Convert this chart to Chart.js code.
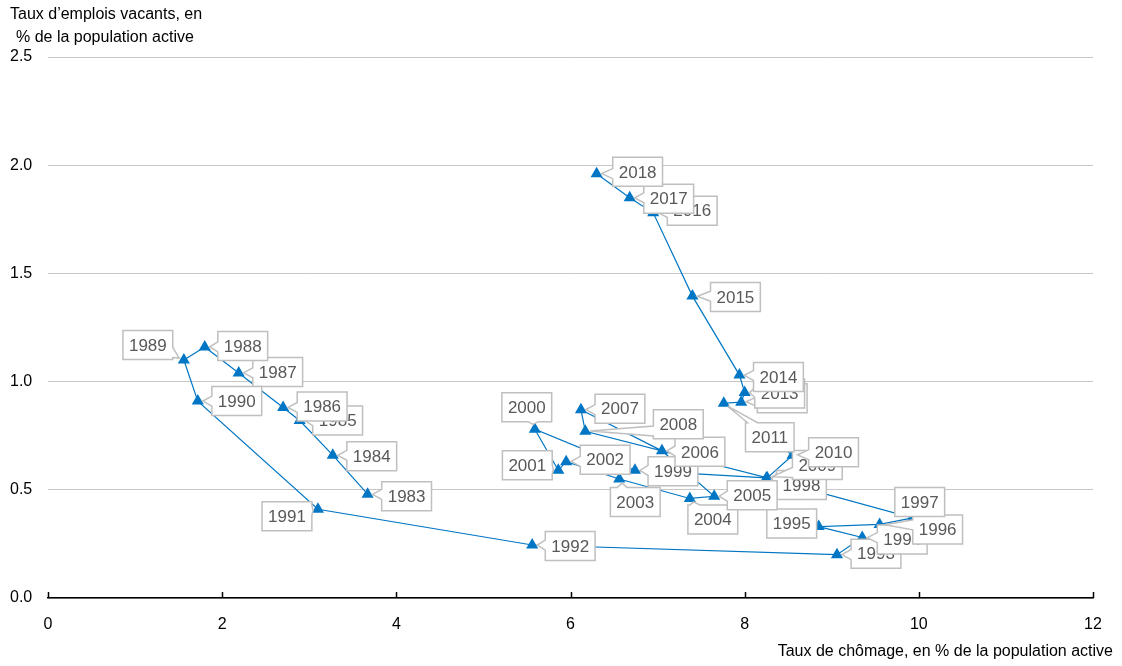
<!DOCTYPE html>
<html>
<head>
<meta charset="utf-8">
<script src="https://cdn.jsdelivr.net/npm/chart.js@4.4.1/dist/chart.umd.min.js"></script>
<style>
  html, body { margin: 0; padding: 0; background: #fff; }
  #wrap { width: 1122px; height: 666px; }
</style>
</head>
<body>
<div id="wrap"><canvas id="graphique" width="1122" height="666"></canvas></div>
<script>
// Données
const annees = [1983, 1984, 1985, 1986, 1987, 1988, 1989, 1990, 1991, 1992,
  1993, 1994, 1995, 1996, 1997, 1998, 1999, 2000, 2001, 2002,
  2003, 2004, 2005, 2006, 2007, 2008, 2009, 2010, 2011, 2012,
  2013, 2014, 2015, 2016, 2017, 2018];
const chomage = [3.67, 3.27, 2.89, 2.70, 2.19, 1.80, 1.56, 1.72, 3.10, 5.56,
  9.06, 9.35, 8.85, 9.55, 9.93, 8.25, 6.74, 5.59, 5.86, 5.95,
  6.56, 7.37, 7.65, 7.05, 6.12, 6.17, 8.26, 8.55, 7.76, 7.96,
  8.00, 7.94, 7.40, 6.95, 6.68, 6.30];
const emploisVacants = [0.48, 0.66, 0.82, 0.88, 1.04, 1.16, 1.10, 0.91, 0.41, 0.245,
  0.20, 0.28, 0.33, 0.34, 0.37, 0.555, 0.59, 0.78, 0.59, 0.63,
  0.55, 0.46, 0.47, 0.68, 0.87, 0.77, 0.555, 0.66, 0.90, 0.905,
  0.95, 1.03, 1.395, 1.78, 1.85, 1.96];
const ticksX = [0, 2, 4, 6, 8, 10, 12];
const titreX = "Taux de chômage, en % de la population active";
const titreY = ["Taux d’emplois vacants, en", "% de la population active"];

// Décalage des étiquettes (px) par rapport au point
const decalages = [
  [39, 2], [39, 1], [38, 0], [39, -1], [39, -1], [38, -1], [-36, -15], [39, 0], [-31, 7], [38, 1],
  [39, -1], [40, 2], [-27, -3], [58, 5], [7, -16], [35, 7], [38, 1], [-8, -22], [-31, -5], [39, -2],
  [16, 23], [23, 21], [38, -1], [38, 1], [39, -1], [93, -7], [50, -13], [41, -3], [46, 34], [41, -4],
  [35, 1], [39, 2], [43, 1], [39, -2], [39, 1], [41, -2]
];

const BLEU = "rgb(0,118,196)";
const POLICE = '"Liberation Sans Narrow", "Arial Narrow", "Liberation Sans", Arial, sans-serif';

function traceBulle(ctx, l, t, r, b, tx, ty) {
  const cx = (l + r) / 2, cy = (t + b) / 2, hw = (r - l) / 2, hh = (b - t) / 2;
  let cote = null;
  if (!(tx > l && tx < r && ty > t && ty < b)) {
    const rx = (tx - cx) / hw, ry = (ty - cy) / hh;
    if (Math.abs(rx) >= Math.abs(ry)) cote = rx < 0 ? "gauche" : "droite";
    else cote = ry < 0 ? "haut" : "bas";
  }
  const bw = 5;
  const ax = Math.min(Math.max(tx, l + bw + 2), r - bw - 2);
  const ay = Math.min(Math.max(ty, t + bw + 2), b - bw - 2);
  ctx.beginPath();
  ctx.moveTo(l, t);
  if (cote === "haut") { ctx.lineTo(ax - bw, t); ctx.lineTo(tx, ty); ctx.lineTo(ax + bw, t); }
  ctx.lineTo(r, t);
  if (cote === "droite") { ctx.lineTo(r, ay - bw); ctx.lineTo(tx, ty); ctx.lineTo(r, ay + bw); }
  ctx.lineTo(r, b);
  if (cote === "bas") { ctx.lineTo(ax + bw, b); ctx.lineTo(tx, ty); ctx.lineTo(ax - bw, b); }
  ctx.lineTo(l, b);
  if (cote === "gauche") { ctx.lineTo(l, ay + bw); ctx.lineTo(tx, ty); ctx.lineTo(l, ay - bw); }
  ctx.closePath();
}

// Étiquettes en bulles
const pluginBulles = {
  id: "bulles",
  afterDatasetsDraw(chart) {
    const ctx = chart.ctx;
    const points = chart.getDatasetMeta(0).data;
    ctx.save();
    ctx.font = "17px " + POLICE;
    ctx.lineWidth = 1.5;
    points.forEach((p, i) => {
      const txt = String(annees[i]);
      const [dx, dy] = decalages[i];
      const cx = p.x + dx, cy = p.y + dy;
      const w = ctx.measureText(txt).width + 12, h = 29;
      const l = cx - w / 2, t = cy - h / 2;
      // pointe un peu avant le marqueur
      const vx = cx - p.x, vy = cy - p.y, d = Math.hypot(vx, vy) || 1;
      const tx = p.x + vx / d * 5, ty = p.y + vy / d * 5;
      traceBulle(ctx, l, t, l + w, t + h, tx, ty);
      ctx.fillStyle = "#fff";
      ctx.fill();
      ctx.strokeStyle = "#bfbfbf";
      ctx.stroke();
      ctx.fillStyle = "#595959";
      ctx.textAlign = "center";
      ctx.textBaseline = "middle";
      ctx.fillText(txt, cx, cy + 1);
    });
    ctx.restore();
  }
};

// Titres des axes et petites graduations
const pluginAxes = {
  id: "axes",
  afterDraw(chart) {
    const ctx = chart.ctx;
    const sx = chart.scales.x, bas = chart.chartArea.bottom;
    ctx.save();
    ctx.strokeStyle = "#000";
    ctx.lineWidth = 1.5;
    ticksX.forEach(v => {
      const x = Math.round(sx.getPixelForValue(v)) + 0.5;
      ctx.beginPath();
      ctx.moveTo(x, bas);
      ctx.lineTo(x, bas - 6);
      ctx.stroke();
    });
    ctx.fillStyle = "#000";
    ctx.font = "16px " + POLICE;
    ctx.textBaseline = "middle";
    ctx.textAlign = "left";
    ctx.fillText(titreY[0], 10, 15);
    ctx.fillText(titreY[1], 16, 38);
    ctx.textAlign = "right";
    ctx.fillText(titreX, 1113, 652);
    ctx.restore();
  }
};

new Chart(document.getElementById("graphique"), {
  type: "scatter",
  data: {
    datasets: [{
      data: annees.map((a, i) => ({ x: chomage[i], y: emploisVacants[i] })),
      showLine: true,
      borderColor: BLEU,
      borderWidth: 1.2,
      pointStyle: "triangle",
      pointRadius: 7,
      pointBackgroundColor: BLEU,
      pointBorderWidth: 0,
      tension: 0
    }]
  },
  options: {
    responsive: false,
    animation: false,
    devicePixelRatio: 1,
    layout: { padding: { left: 10, top: 57, right: 29, bottom: 0 } },
    plugins: { legend: { display: false }, tooltip: { enabled: false } },
    scales: {
      x: {
        type: "linear",
        min: 0, max: 12,
        afterFit: s => { s.height = 68; },
        afterBuildTicks: s => { s.ticks = ticksX.map(v => ({ value: v })); },
        ticks: { color: "#000", font: { family: POLICE, size: 16 }, padding: 9 },
        grid: { display: false },
        border: { color: "#000", width: 1.5 }
      },
      y: {
        min: 0, max: 2.5,
        afterFit: s => { s.width = 38; },
        ticks: {
          stepSize: 0.5,
          crossAlign: "far",
          color: "#000",
          font: { family: POLICE, size: 16 },
          callback: v => Number(v).toFixed(1)
        },
        grid: { color: "#c6c6c6", lineWidth: 1, drawTicks: false },
        border: { display: false }
      }
    }
  },
  plugins: [pluginBulles, pluginAxes]
});
</script>
</body>
</html>
